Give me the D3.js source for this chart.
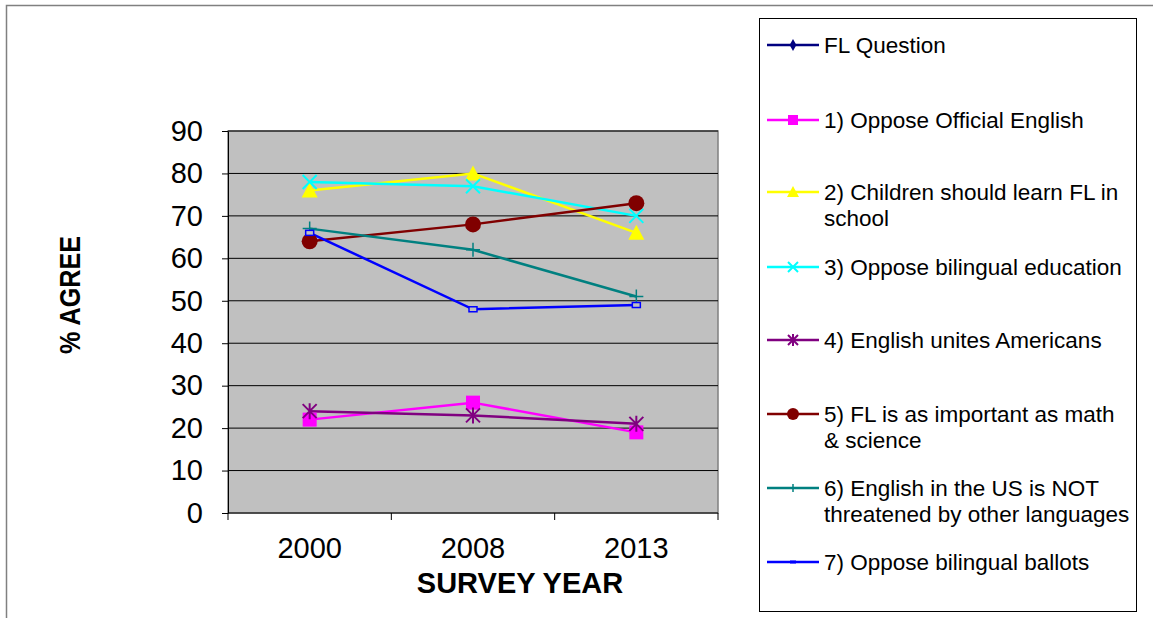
<!DOCTYPE html>
<html>
<head>
<meta charset="utf-8">
<script src="https://cdn.jsdelivr.net/npm/d3@7"></script>
<style>
body { margin: 0; background: #fff; }
text { font-family: "Liberation Sans", Arial, sans-serif; }
</style>
</head>
<body>
<svg id="chart" width="1153" height="618"></svg>
<script>
// survey years and the series
var years = ["2000", "2008", "2013"]
var seriesNames = ["FL Question", "1) Oppose Official English", "2) Children should learn FL in school",
    "3) Oppose bilingual education", "4) English unites Americans", "5) FL is as important as math & science",
    "6) English in the US is NOT threatened by other languages", "7) Oppose bilingual ballots"]
var flQuestion = []
var opposeOfficial = [22, 26, 19]
var childrenFL = [76, 80, 66]
var opposeBilingualEd = [78, 77, 70]
var englishUnites = [24, 23, 21]
var flImportant = [64, 68, 73]
var notThreatened = [67, 62, 51]
var opposeBallots = [66, 48, 49]
var yTicks = [0, 10, 20, 30, 40, 50, 60, 70, 80, 90]

var legendLines = [["FL Question"], ["1) Oppose Official English"], ["2) Children should learn FL in", "school"],
    ["3) Oppose bilingual education"], ["4) English unites Americans"], ["5) FL is as important as math", "& science"],
    ["6) English in the US is NOT", "threatened by other languages"], ["7) Oppose bilingual ballots"]]

var series = [
    {name: seriesNames[0], values: flQuestion, color: "#000080", marker: "diamond"},
    {name: seriesNames[1], values: opposeOfficial, color: "#ff00ff", marker: "square"},
    {name: seriesNames[2], values: childrenFL, color: "#ffff00", marker: "triangle"},
    {name: seriesNames[3], values: opposeBilingualEd, color: "#00ffff", marker: "x"},
    {name: seriesNames[4], values: englishUnites, color: "#800080", marker: "star"},
    {name: seriesNames[5], values: flImportant, color: "#800000", marker: "circle"},
    {name: seriesNames[6], values: notThreatened, color: "#008080", marker: "plus"},
    {name: seriesNames[7], values: opposeBallots, color: "#0000ff", marker: "smallsquare"}
]

var svg = d3.select("#chart")

// outer chart frame
svg.append("path").attr("d", "M6.5,618 L6.5,5.5 L1153,5.5").attr("fill", "none").attr("stroke", "#808080").attr("stroke-width", 1.5)

var plotLeft = 228, plotRight = 718, plotTop = 131, plotBottom = 513

var x = d3.scaleBand().domain(years).range([plotLeft, plotRight])
var y = d3.scaleLinear().domain([0, 90]).range([plotBottom, plotTop])

// plot area
svg.append("rect").attr("x", plotLeft).attr("y", plotTop).attr("width", plotRight - plotLeft).attr("height", plotBottom - plotTop)
    .attr("fill", "#c0c0c0").attr("stroke", "#808080").attr("stroke-width", 1.5)

svg.append("g").selectAll("line").data(yTicks.filter(function(d){ return d > 0 })).enter().append("line")
    .attr("x1", plotLeft).attr("x2", plotRight)
    .attr("y1", function(d){ return y(d) }).attr("y2", function(d){ return y(d) })
    .attr("stroke", "#000").attr("stroke-width", 1)

// y axis
var yAxis = svg.append("g").attr("transform", "translate(" + plotLeft + ",0)")
    .call(d3.axisLeft(y).tickValues(yTicks).tickSize(6).tickPadding(19).tickSizeOuter(0))
yAxis.select(".domain").attr("stroke", "#000")
yAxis.selectAll("text").attr("font-size", 29).attr("fill", "#000").attr("font-family", "Liberation Sans, Arial, sans-serif")

// x axis: ticks sit between categories
var xAxis = svg.append("g").attr("transform", "translate(0," + plotBottom + ")")
xAxis.append("line").attr("x1", plotLeft).attr("x2", plotRight).attr("stroke", "#000")
xAxis.selectAll("line.tk").data([plotLeft].concat(years.map(function(d){ return x(d) + x.bandwidth() }))).enter()
    .append("line").attr("class", "tk")
    .attr("x1", function(d){ return d }).attr("x2", function(d){ return d })
    .attr("y1", 0).attr("y2", 7).attr("stroke", "#000")
xAxis.selectAll("text").data(years).enter().append("text")
    .attr("x", function(d){ return x(d) + x.bandwidth() / 2 }).attr("y", 45)
    .attr("text-anchor", "middle").attr("font-size", 29).text(function(d){ return d })

svg.append("text").attr("x", 520).attr("y", 593).attr("text-anchor", "middle")
    .attr("font-size", 29).attr("font-weight", "bold").text("SURVEY YEAR")
svg.append("text").attr("transform", "translate(80,295) rotate(-90)").attr("text-anchor", "middle")
    .attr("font-size", 29).attr("font-weight", "bold")
    .attr("textLength", 118).attr("lengthAdjust", "spacingAndGlyphs").text("% AGREE")

function drawMarker(g, type, color, size) {
    var s = size
    if (type == "diamond") {
        g.append("path").attr("d", d3.symbol(d3.symbolDiamond, 40)()).attr("fill", color)
    } else if (type == "square") {
        g.append("rect").attr("x", -s).attr("y", -s).attr("width", 2 * s).attr("height", 2 * s).attr("fill", color)
    } else if (type == "triangle") {
        g.append("path").attr("d", "M0," + (-s - 1) + " L" + (s + 1) + "," + (s) + " L" + (-s - 1) + "," + s + "Z").attr("fill", color)
    } else if (type == "x") {
        g.append("path").attr("d", "M" + -s + "," + -s + "L" + s + "," + s + "M" + -s + "," + s + "L" + s + "," + -s)
            .attr("stroke", color).attr("stroke-width", 2)
    } else if (type == "star") {
        g.append("path").attr("d", "M" + -s + "," + -s + "L" + s + "," + s + "M" + -s + "," + s + "L" + s + "," + -s + "M0," + (-s - 1) + "L0," + (s + 1))
            .attr("stroke", color).attr("stroke-width", 2)
    } else if (type == "circle") {
        g.append("circle").attr("r", s + 1).attr("fill", color)
    } else if (type == "plus") {
        g.append("path").attr("d", "M" + -s + ",0L" + s + ",0M0," + -s + "L0," + s).attr("stroke", color).attr("stroke-width", 1.5)
    } else if (type == "smallsquare") {
        g.append("rect").attr("x", -4).attr("y", -2.5).attr("width", 8).attr("height", 5)
            .attr("fill", "#c0c0c0").attr("stroke", color).attr("stroke-width", 1.5)
    }
}

var line = d3.line()
    .x(function(d, i){ return x(years[i]) + x.bandwidth() / 2 })
    .y(function(d){ return y(d) })

series.forEach(function(s) {
    if (s.values.length == 0) return
    svg.append("path").datum(s.values).attr("d", line)
        .attr("fill", "none").attr("stroke", s.color).attr("stroke-width", 2.5)
})
series.forEach(function(s) {
    s.values.forEach(function(v, i) {
        var g = svg.append("g").attr("transform", "translate(" + (x(years[i]) + x.bandwidth() / 2) + "," + y(v) + ")")
        drawMarker(g, s.marker, s.color, 7)
    })
})

// legend
svg.append("rect").attr("x", 759.5).attr("y", 18.5).attr("width", 377).attr("height", 593)
    .attr("fill", "#fff").attr("stroke", "#000").attr("stroke-width", 1)
var legendY = [45, 120, 192, 267, 340, 414, 488, 562]
series.forEach(function(s, i) {
    var ly = legendY[i]
    svg.append("line").attr("x1", 767).attr("x2", 819).attr("y1", ly).attr("y2", ly)
        .attr("stroke", s.color).attr("stroke-width", 2.5)
    var g = svg.append("g").attr("transform", "translate(793," + ly + ")")
    if (s.marker == "smallsquare") {
        g.append("rect").attr("x", -3).attr("y", -1.5).attr("width", 6).attr("height", 3).attr("fill", s.color)
    } else if (s.marker == "plus") {
        g.append("path").attr("d", "M0,-4L0,4").attr("stroke", s.color).attr("stroke-width", 1.5)
    } else {
        drawMarker(g, s.marker, s.color, 5)
    }
    var t = svg.append("text").attr("x", 824).attr("y", ly + 8).attr("font-size", 22.5)
    legendLines[i].forEach(function(l, j) {
        t.append("tspan").attr("x", 824).attr("dy", j == 0 ? 0 : 26).text(l)
    })
})
</script>
</body>
</html>
